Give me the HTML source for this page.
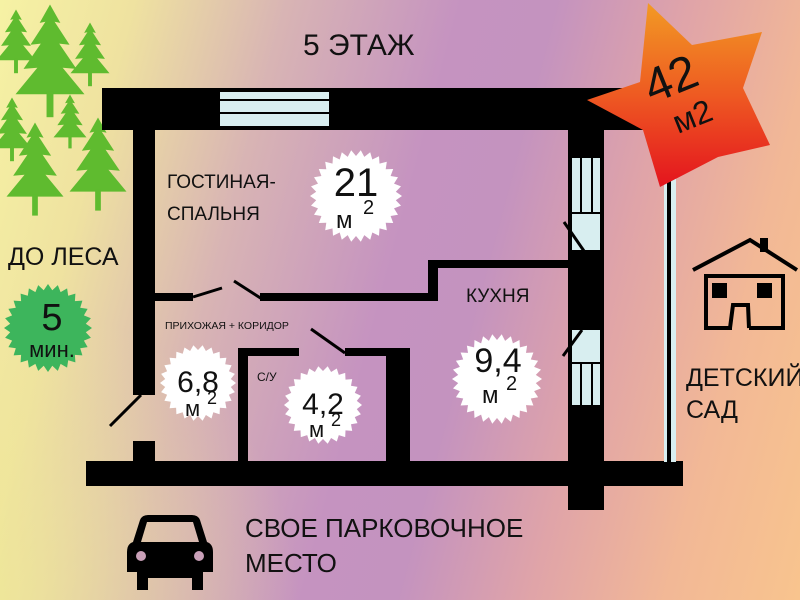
<!DOCTYPE html>
<html><head><meta charset="utf-8"><style>
html,body{margin:0;padding:0}
body{width:800px;height:600px;overflow:hidden;position:relative;
background:linear-gradient(105deg,#f6f2a4 0%,#efe2a0 14%,#d8b4b4 30%,#c593c0 48%,#c493bf 58%,#e0a4a8 72%,#f2b896 86%,#f8c48e 100%);}
svg{position:absolute;left:0;top:0}
text{font-family:"Liberation Sans",sans-serif;fill:#111}
</style></head><body>
<div style="position:absolute;left:0;top:0;width:800px;height:600px;background:radial-gradient(ellipse 300px 300px at 0px 600px,rgba(240,235,150,0.7),rgba(240,235,150,0))"></div>
<svg width="800" height="600" viewBox="0 0 800 600">
<defs>
<linearGradient id="sg" x1="0" y1="0" x2="0" y2="1">
<stop offset="0" stop-color="#f29a24"/><stop offset="0.5" stop-color="#ee5a22"/><stop offset="1" stop-color="#e4141e"/></linearGradient>
<g id="tree">
<polygon points="0,-50 -9,-34 -4,-35 -17,-15 -8,-16 -23,6 -11,5 -30,28 30,28 11,5 23,6 8,-16 17,-15 4,-35 9,-34" fill="#5fbb2f"/>
<rect x="-3" y="26" width="6" height="22" fill="#5fbb2f"/>
</g>
</defs>
<!-- trees -->
<use href="#tree" transform="translate(16,42) scale(0.65)"/>
<use href="#tree" transform="translate(50,62) scale(1.15)"/>
<use href="#tree" transform="translate(90,55) scale(0.65)"/>
<use href="#tree" transform="translate(12,130) scale(0.65)"/>
<use href="#tree" transform="translate(70,122) scale(0.55)"/>
<use href="#tree" transform="translate(35,170) scale(0.95)"/>
<use href="#tree" transform="translate(98,165) scale(0.95)"/>

<text x="303" y="55" font-size="30">5 ЭТАЖ</text>

<!-- walls -->
<g fill="#000">
<rect x="102" y="88" width="541" height="42"/>
<rect x="133" y="125" width="22" height="270"/>
<rect x="133" y="441" width="22" height="24"/>
<rect x="86" y="461" width="597" height="25"/>
<rect x="568" y="125" width="36" height="385"/>
<rect x="155" y="293" width="38" height="8"/>
<rect x="260" y="293" width="176" height="8"/>
<rect x="428" y="260" width="10" height="41"/>
<rect x="428" y="260" width="142" height="8"/>
<rect x="238" y="348" width="10" height="115"/>
<rect x="238" y="348" width="61" height="8"/>
<rect x="345" y="348" width="65" height="8"/>
<rect x="386" y="348" width="24" height="115"/>
</g>
<!-- windows -->
<rect x="220" y="92" width="109" height="34" fill="#d8eef0"/>
<rect x="220" y="99" width="109" height="2" fill="#000"/>
<rect x="220" y="112" width="109" height="2" fill="#000"/>
<rect x="572" y="158" width="28" height="92" fill="#d8eef0"/>
<rect x="580" y="158" width="2" height="55" fill="#000"/>
<rect x="591" y="158" width="2" height="55" fill="#000"/>
<rect x="572" y="212" width="28" height="2" fill="#000"/>
<rect x="572" y="330" width="28" height="75" fill="#d8eef0"/>
<rect x="580" y="363" width="2" height="42" fill="#000"/>
<rect x="591" y="363" width="2" height="42" fill="#000"/>
<rect x="572" y="362" width="28" height="2" fill="#000"/>
<!-- far right line -->
<rect x="664" y="175" width="12" height="287" fill="#d8eef0"/>
<rect x="667" y="175" width="4" height="287" fill="#000"/>
<!-- doors -->
<g stroke="#000" stroke-width="3">
<line x1="141" y1="395" x2="110" y2="426"/>
<line x1="193" y1="297" x2="222" y2="288"/>
<line x1="234" y1="281" x2="262" y2="299"/>
<line x1="311" y1="329" x2="345" y2="353"/>
<line x1="564" y1="222" x2="584" y2="251"/>
<line x1="582" y1="330" x2="563" y2="356"/>
</g>

<!-- star -->
<polygon points="648,3 692,45 762,32 743,88 770,145 718,157 660,187 643,130 587,100 640,82" fill="url(#sg)"/>
<text x="0" y="0" font-size="48" transform="translate(652,104) rotate(-22)">42</text>
<text x="0" y="0" font-size="32" transform="translate(678,134) rotate(-22)">м2</text>

<!-- badges -->
<g id="badges"></g>
<g font-size="40" text-anchor="middle">
<text x="356" y="196">21</text>
<text x="498" y="372" font-size="34">9,4</text>
<text x="198" y="392" font-size="30">6,8</text>
<text x="323" y="414" font-size="30">4,2</text>
</g>
<g font-size="24">
<text x="336" y="228">м</text><text x="363" y="214" font-size="20">2</text>
<text x="482" y="403">м</text><text x="506" y="390" font-size="20">2</text>
<text x="185" y="416" font-size="22">м</text><text x="207" y="404" font-size="18">2</text>
<text x="309" y="437" font-size="22">м</text><text x="331" y="426" font-size="18">2</text>
</g>

<text x="167" y="188" font-size="19">ГОСТИНАЯ-</text>
<text x="167" y="220" font-size="19">СПАЛЬНЯ</text>
<text x="466" y="302" font-size="19">КУХНЯ</text>
<text x="165" y="329" font-size="10.5">ПРИХОЖАЯ + КОРИДОР</text>
<text x="257" y="381" font-size="12">С/У</text>

<!-- left -->
<text x="8" y="265" font-size="25">ДО ЛЕСА</text>
<g id="gb"></g>
<text x="52" y="330" font-size="38" text-anchor="middle">5</text>
<text x="52" y="357" font-size="22" text-anchor="middle">мин.</text>

<!-- house -->
<g fill="none" stroke="#000" stroke-width="4">
<polyline points="693,270 750,240 797,270"/>
<rect x="706" y="276" width="77" height="52"/>
</g>
<rect x="760" y="238" width="8" height="14" fill="#000"/>
<rect x="732" y="304" width="17" height="26" fill="#f2b898"/>
<polyline points="730,328 733,305 748,305 749,328" fill="none" stroke="#000" stroke-width="4"/>
<rect x="712" y="283" width="15" height="15" fill="#000"/>
<rect x="757" y="283" width="15" height="15" fill="#000"/>
<text x="686" y="386" font-size="25">ДЕТСКИЙ</text>
<text x="686" y="418" font-size="25">САД</text>

<!-- car -->
<path d="M148,515 L192,515 Q198,515 200,520 L207,542 Q213,544 213,552 L213,572 L203,572 L203,590 L192,590 L192,578 L148,578 L148,590 L137,590 L137,572 L127,572 L127,552 Q127,544 133,542 L140,520 Q142,515 148,515 Z M147,522 L141,542 L199,542 L193,522 Z" fill="#000" fill-rule="evenodd"/>
<circle cx="141" cy="556" r="5" fill="#c9a0b8"/>
<circle cx="199" cy="556" r="5" fill="#c9a0b8"/>
<text x="245" y="537" font-size="26">СВОЕ ПАРКОВОЧНОЕ</text>
<text x="245" y="572" font-size="26">МЕСТО</text>
</svg>
<script>
function burst(cx,cy,r1,r2,n,fill){var p=[];for(var i=0;i<2*n;i++){var a=Math.PI*i/n,r=i%2?r2:r1;p.push((cx+r*Math.cos(a)).toFixed(1)+','+(cy+r*Math.sin(a)).toFixed(1));}
var e=document.createElementNS('http://www.w3.org/2000/svg','polygon');e.setAttribute('points',p.join(' '));e.setAttribute('fill',fill);return e;}
var g=document.getElementById('badges');
g.appendChild(burst(356,196,46,40,30,'#fff'));
g.appendChild(burst(497,379,45,39,30,'#fff'));
g.appendChild(burst(198,383,38,33,26,'#fff'));
g.appendChild(burst(323,405,39,34,26,'#fff'));
document.getElementById('gb').appendChild(burst(48,328,44,38,28,'#3db55c'));
</script>
</body></html>
